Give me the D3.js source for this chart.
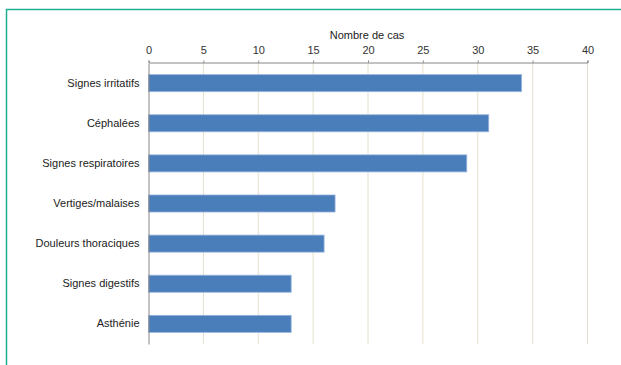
<!DOCTYPE html>
<html>
<head>
<meta charset="utf-8">
<script src="https://cdn.jsdelivr.net/npm/d3@7"></script>
<style>
body { margin: 0; background: #fff; }
text { font-family: "Liberation Sans", Arial, sans-serif; }
</style>
</head>
<body>
<script>
// donnees
var categories = ['Signes irritatifs', 'Céphalées', 'Signes respiratoires', 'Vertiges/malaises',
    'Douleurs thoraciques', 'Signes digestifs', 'Asthénie'];
var cas = [34, 31, 29, 17, 16, 13, 13];
var ticks = [0, 5, 10, 15, 20, 25, 30, 35, 40];

var svg = d3.select('body').append('svg')
    .attr('width', 621)
    .attr('height', 365);

// cadre vert
svg.append('rect')
    .attr('x', 6.5)
    .attr('y', 9.5)
    .attr('width', 640)
    .attr('height', 400)
    .attr('fill', 'none')
    .attr('stroke', '#1fae92')
    .attr('stroke-width', 1.5);

var x = d3.scaleLinear().domain([0, 40]).range([148.5, 587.5]);
var y = d3.scaleBand().domain(categories).range([63, 344]).paddingInner(0.575).paddingOuter(0.29);

// grille
svg.selectAll('.grid')
    .data(ticks.slice(1))
    .enter().append('line')
    .attr('x1', function(d) { return x(d); })
    .attr('x2', function(d) { return x(d); })
    .attr('y1', 62.5)
    .attr('y2', 344)
    .attr('stroke', '#e4e0cc')
    .attr('stroke-width', 1);

// barres
svg.selectAll('.bar')
    .data(cas)
    .enter().append('rect')
    .attr('x', x(0))
    .attr('y', function(d, i) { return y(categories[i]); })
    .attr('width', function(d) { return x(d) - x(0); })
    .attr('height', y.bandwidth())
    .attr('fill', '#4a7ebb')
    .attr('stroke', '#9ab5dd')
    .attr('stroke-width', 0.8);

// axe du haut
var xAxis = svg.append('g')
    .attr('transform', 'translate(0,62.5)')
    .call(d3.axisTop(x).tickValues(ticks).tickSize(2).tickSizeOuter(2));
xAxis.select('.domain').attr('stroke', '#868686');
xAxis.selectAll('.tick line').attr('stroke', '#868686');
xAxis.selectAll('.tick text')
    .attr('font-size', 11)
    .attr('fill', '#333')
    .attr('font-family', '"Liberation Sans", Arial, sans-serif')
    .attr('dy', '-0.35em');

// axe vertical
var yAxis = svg.append('g')
    .attr('transform', 'translate(148.5,0)')
    .call(d3.axisLeft(y).tickSize(0).tickPadding(9));
yAxis.select('.domain').attr('stroke', '#868686');
yAxis.selectAll('.tick text')
    .attr('font-size', 11)
    .attr('fill', '#222')
    .attr('font-family', '"Liberation Sans", Arial, sans-serif');

svg.append('text')
    .attr('x', 367)
    .attr('y', 39)
    .attr('text-anchor', 'middle')
    .attr('font-size', 11)
    .attr('fill', '#222')
    .text('Nombre de cas');
</script>
</body>
</html>
